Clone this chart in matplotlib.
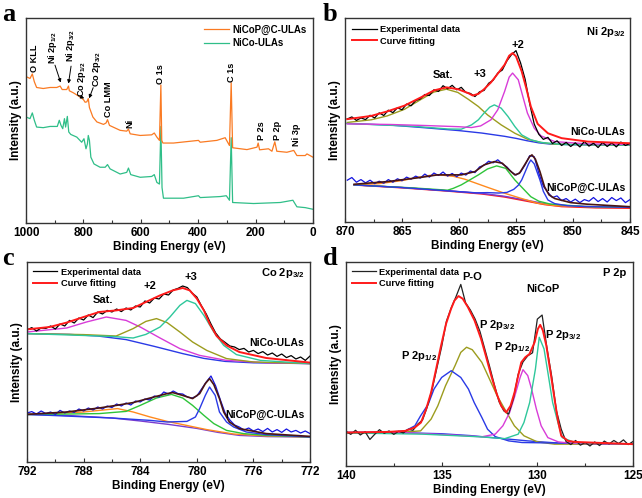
import numpy as np
import matplotlib
matplotlib.use("Agg")
import matplotlib.pyplot as plt

plt.rcParams['font.family'] = ['Liberation Sans', 'DejaVu Sans']
plt.rcParams['font.weight'] = 'bold'
plt.rcParams['axes.labelweight'] = 'bold'
plt.rcParams['mathtext.fontset'] = 'custom'
plt.rcParams['mathtext.rm'] = 'Liberation Sans:bold'
plt.rcParams['mathtext.it'] = 'Liberation Sans:bold'
plt.rcParams['mathtext.bf'] = 'Liberation Sans:bold'

# ---------------- Panel a : survey ----------------
a_eV_nicop = [1000, 986, 978, 971, 963, 940, 916, 893, 881, 874, 858, 852, 849, 835, 812, 800, 794, 788, 783, 779,
              767, 753, 730, 721, 716, 709, 672, 649, 643, 637, 602, 562, 553, 544, 535, 530, 527, 523, 486, 399,
              393, 335, 306, 291, 285, 280, 230, 195, 191, 186, 155, 143, 133, 126, 91, 67, 56, 27, 21, 0]
a_I_nicop = [71.4, 70.5, 72.7, 68.9, 66.1, 65.6, 66.1, 66.1, 66.8, 65.1, 65.1, 66.8, 64.5, 63.5, 61.5, 60.2, 58.9, 59.1, 60.7, 56.3,
             51.7, 49.3, 48.1, 48.8, 50.4, 47.6, 45.2, 44.8, 45.8, 43.5, 42.7, 43.0, 43.9, 41.9, 40.3, 67.3, 40.3, 39.0, 39.0, 40.3,
             39.4, 40.3, 41.6, 37.8, 68.4, 36.7, 35.8, 37.0, 39.0, 35.7, 36.2, 35.0, 39.6, 35.0, 34.5, 35.4, 32.9, 32.9, 33.7, 32.1]
a_eV_nico = [1000, 986, 978, 971, 963, 940, 916, 891, 884, 878, 872, 866, 862, 856, 851, 844, 823, 806, 798, 791,
             786, 783, 779, 774, 763, 742, 724, 716, 707, 672, 649, 643, 635, 602, 562, 553, 544, 535, 530, 526,
             521, 451, 399, 393, 323, 302, 291, 285, 280, 207, 114, 70, 56, 27, 0]
a_I_nico = [51.7, 50.9, 53.7, 50.1, 46.8, 46.5, 47.1, 47.1, 50.1, 47.6, 46.0, 50.9, 46.8, 52.0, 44.4, 43.2, 41.9, 39.4, 41.1, 36.2,
            38.6, 42.7, 40.3, 32.1, 28.8, 27.2, 27.2, 28.5, 26.4, 23.9, 24.7, 26.8, 23.6, 22.3, 22.7, 23.6, 19.8, 19.0, 47.1, 17.3,
            12.1, 12.1, 13.3, 12.4, 12.9, 13.3, 11.1, 41.6, 10.0, 9.5, 10.0, 11.1, 7.9, 7.5, 6.7]
a_labels = ['O KLL', 'Ni 2p$_{1/2}$', 'Ni 2p$_{3/2}$', 'Co 2p$_{1/2}$', 'Co 2p$_{3/2}$', 'Co LMM', 'Ni', 'O 1s', 'C 1s', 'P 2s', 'P 2p', 'Ni 3p']
a_label_eV = [971, 907, 844, 805, 753, 713, 637, 530, 283, 178, 122, 59]
a_label_I = [73.8, 77.6, 78.5, 61.5, 66.5, 51.7, 46.5, 67.8, 69.0, 40.3, 40.3, 37.8]

# ---------------- Panel b : Ni 2p3/2 ----------------
b_top_exp = [50.5, 51.5, 49.8, 51.0, 50.2, 52.3, 51.0, 53.5, 52.2, 54.8, 53.6, 56.0, 55.0, 57.8, 57.0, 59.5, 60.3, 62.5, 62.0, 64.8,
             64.0, 66.8, 65.3, 67.0, 64.8, 66.0, 63.5, 63.0, 61.5, 63.8, 64.5, 68.0, 69.5, 73.0, 74.5, 79.0, 82.0, 84.0, 78.0, 70.0,
             58.0, 48.0, 43.0, 40.5, 41.5, 38.5, 39.8, 37.5, 39.0, 37.0, 38.8, 36.8, 39.5, 37.2, 38.6, 36.5, 39.0, 37.0, 38.8, 36.8,
             39.2, 37.5, 38.5]
b_bot_exp = [20.5, 21.8, 19.5, 20.8, 19.2, 20.5, 18.8, 20.0, 19.0, 20.8, 19.5, 21.2, 20.2, 22.0, 21.0, 22.5, 21.5, 23.5, 22.0, 24.0,
             22.8, 24.5, 22.5, 23.8, 22.2, 24.0, 23.0, 25.0, 24.2, 27.0, 27.8, 29.8, 29.0, 30.5, 28.5, 27.0, 24.5, 23.0, 24.5, 28.0,
             32.5, 32.0, 24.0, 17.5, 14.5, 12.0, 12.8, 10.5, 11.5, 9.8, 11.2, 9.5, 11.0, 10.2, 12.0, 10.0, 11.5, 9.8, 12.0, 10.5,
             11.8, 9.5, 11.0]
b_exp_range = (869.8, 845.0)

b_top_fit_eV = [869.8, 867.7, 866.3, 864.8, 863.3, 862.2, 861.1, 860.1, 859.2, 858.8, 858.3, 857.8, 857.2, 856.6, 856.0, 855.6,
                855.3, 855.0, 854.5, 854.1, 853.7, 853.1, 852.2, 851.0, 848.7, 845]
b_top_fit_I = [50.4, 52.0, 54.2, 57.0, 61.2, 64.5, 66.0, 65.1, 63.2, 62.0, 62.8, 65.1, 68.4, 72.7, 77.1, 81.5,
               82.8, 81.2, 73.8, 65.6, 56.6, 48.1, 43.5, 41.1, 39.4, 38.6]
b_top_base_eV = [869.8, 866, 863, 860, 858, 856, 855, 854, 853, 852, 850, 845]
b_top_base_I = [48.3, 47.5, 46.2, 44.8, 43.6, 42.0, 41.0, 39.8, 38.8, 38.2, 37.9, 37.7]
b_top_sat_eV = [869.8, 867.7, 866.3, 864.8, 863.3, 862.2, 861.1, 860.1, 859.2, 858.3, 857.5, 856.3, 855.1, 854.0, 852.8, 851.6, 845]
b_top_sat_I = [48.8, 50.1, 52.0, 55.2, 60.2, 63.7, 65.1, 63.5, 60.2, 56.6, 52.5, 47.6, 43.5, 40.6, 39.0, 38.1, 37.7]
b_top_p3_eV = [869.8, 864, 861, 859.8, 858.9, 858.3, 857.8, 857.3, 856.9, 856.3, 855.7, 855.1, 854.5, 853.7, 852.8, 851, 845]
b_top_p3_I = [48.3, 46.9, 45.6, 45.5, 47.6, 50.1, 53.4, 56.3, 57.4, 55.8, 51.7, 46.8, 42.7, 40.3, 39.0, 38.0, 37.7]
b_top_p2_eV = [869.8, 866, 863, 860, 858.9, 858.1, 857.2, 856.6, 856.0, 855.6, 855.3, 854.8, 854.4, 854.0, 853.4, 852.8, 851.6, 848.7, 845]
b_top_p2_I = [48.1, 47.8, 47.3, 46.7, 46.3, 47.1, 50.1, 55.0, 64.0, 71.0, 73.0, 69.7, 61.5, 53.4, 46.0, 42.2, 39.4, 38.3, 38.0]

b_bot_fit_eV = [869.2, 866.3, 863.3, 861.9, 859.8, 858.6, 857.8, 856.9, 856.2, 855.6, 855.1, 854.7, 854.3, 853.8, 853.6, 853.3,
                852.9, 852.5, 852.1, 851.6, 850.2, 848.7, 845]
b_bot_fit_I = [18.5, 19.8, 21.9, 23.1, 23.1, 24.7, 28.0, 29.6, 28.8, 25.5, 23.1, 23.9, 27.5, 32.1, 32.9, 30.8,
               24.7, 17.3, 13.3, 11.5, 9.5, 8.7, 7.5]
b_bot_base_eV = [869.2, 865, 861, 858, 856, 854, 852.5, 851, 848, 845]
b_bot_base_I = [18.2, 16.9, 15.3, 14.0, 12.6, 10.6, 9.0, 8.0, 7.4, 7.2]
b_bot_base2_I = [18.2, 16.8, 15.2, 13.8, 12.3, 10.2, 8.6, 7.6, 7.0, 6.8]
b_bot_sat_eV = [869.2, 867, 865, 863.5, 862.5, 861.7, 860.5, 859.5, 858.9, 857.5, 856.0, 854.5, 853.1, 851.5, 848, 845]
b_bot_sat_I = [18.2, 18.8, 20.3, 22.0, 22.9, 23.1, 22.4, 21.0, 19.8, 17.0, 14.1, 11.5, 9.2, 8.0, 7.4, 7.2]
b_bot_g_eV = [869.2, 864, 861, 860.5, 859.8, 859.0, 858.3, 857.5, 856.7, 855.9, 855.1, 854.4, 853.7, 853.0, 852.0, 849, 845]
b_bot_g_I = [18.2, 16.7, 15.6, 16.5, 18.2, 20.8, 23.1, 26.0, 27.5, 26.3, 20.6, 16.5, 12.4, 10.2, 8.8, 7.6, 7.2]
b_bot_b_eV = [869.2, 865, 861, 858.5, 857.5, 856.5, 855.8, 855.2, 854.8, 854.5, 854.2, 853.9, 853.7, 853.4, 853.15, 852.9,
              852.6, 852.2, 851.6, 850.5, 849, 845]
b_bot_b_I = [18.2, 16.9, 15.3, 14.3, 14.4, 14.2, 14.5, 16.0, 18.0, 20.6, 24.5, 28.5, 30.4, 28.5, 24.5, 20.6,
             15.0, 10.8, 9.0, 8.0, 7.6, 7.2]

# ---------------- Panel c : Co 2p3/2 ----------------
c_top_exp = [66.0, 67.2, 65.5, 67.0, 66.8, 68.0, 66.5, 69.0, 68.0, 70.8, 69.5, 72.0, 71.0, 73.5, 72.2, 75.0, 74.0, 75.8, 75.0, 76.5,
             75.2, 77.0, 76.0, 78.0, 77.5, 80.5, 79.5, 82.0, 81.5, 84.0, 83.5, 86.0, 86.8, 88.0, 87.2, 84.5, 82.5, 78.0, 74.0, 69.0,
             64.5, 61.5, 59.8, 58.0, 57.5, 56.2, 56.8, 55.0, 55.8, 54.2, 55.2, 53.5, 54.5, 52.8, 54.0, 52.2, 53.2, 51.5, 52.5, 50.8,
             53.0]
c_bot_exp = [24.5, 25.2, 24.0, 25.5, 24.2, 25.0, 23.8, 25.8, 24.5, 25.5, 24.8, 26.5, 25.5, 27.0, 26.0, 27.5, 26.5, 28.0, 27.2, 29.0,
             28.0, 29.5, 28.5, 30.5, 30.0, 31.5, 31.0, 33.0, 32.5, 35.0, 34.0, 35.5, 34.2, 34.0, 32.5, 32.0, 33.0, 36.5, 40.0, 43.0,
             38.0, 31.0, 24.5, 21.0, 18.5, 17.5, 16.0, 17.0, 15.5, 16.5, 15.2, 16.8, 15.0, 16.2, 14.8, 16.5, 15.0, 15.8, 14.5, 15.5,
             14.2]
c_exp_range = (792.0, 772.0)

c_top_fit_eV = [792, 790.4, 789.2, 788.0, 786.9, 785.7, 784.5, 783.6, 782.6, 781.7, 781.0, 780.5, 780.0, 779.5, 779.1, 778.6,
                777.9, 777.0, 775.1, 772]
c_top_fit_I = [66.3, 67.5, 69.7, 72.5, 75.0, 75.8, 77.0, 80.0, 83.3, 85.8, 87.0, 85.8, 81.7, 75.8, 69.2, 63.0,
               58.3, 55.0, 52.0, 49.7]
c_top_base_eV = [792, 789, 787, 785, 783, 781, 779.5, 778, 776, 772]
c_top_base_I = [64.2, 63.8, 63.0, 61.2, 57.8, 54.2, 51.8, 50.3, 49.6, 49.2]
c_top_sat_eV = [792, 789.2, 787.8, 786.4, 785.0, 784.0, 782.6, 781.2, 779.8, 777.9, 775, 772]
c_top_sat_I = [65.0, 67.0, 70.0, 72.5, 70.8, 67.5, 62.0, 56.7, 53.3, 50.8, 49.6, 49.2]
c_top_p2_eV = [792, 788, 785.7, 784.5, 783.6, 782.85, 782.1, 781.2, 780.3, 779.3, 777.9, 776, 772]
c_top_p2_I = [64.2, 63.7, 63.0, 66.7, 70.3, 71.7, 69.7, 65.0, 60.0, 55.8, 51.7, 50.0, 49.2]
c_top_p3_eV = [792, 786, 784.5, 783.6, 782.6, 781.9, 781.2, 780.7, 780.1, 779.5, 778.8, 778.1, 777.2, 775.5, 772]
c_top_p3_I = [64.2, 62.8, 62.0, 63.8, 67.5, 72.5, 78.3, 80.8, 79.2, 73.3, 65.0, 58.3, 53.7, 50.8, 49.2]

c_bot_fit_eV = [792, 789.2, 786.9, 785.7, 784.5, 783.3, 782.1, 781.7, 781.0, 780.3, 779.8, 779.4, 779.1, 778.8, 778.4, 778.1,
                777.7, 777.0, 775.1, 772]
c_bot_fit_I = [23.8, 25.0, 27.0, 28.3, 29.7, 32.0, 34.2, 34.7, 33.3, 31.7, 34.2, 39.2, 41.7, 38.7, 31.7, 25.0,
               20.0, 16.7, 14.2, 12.8]
c_bot_base_eV = [792, 789, 786, 784, 782, 780, 778.5, 777, 775, 772]
c_bot_base_I = [23.8, 23.2, 22.0, 20.5, 18.8, 16.8, 14.8, 13.3, 12.7, 12.5]
c_bot_sat_eV = [792, 789.5, 788, 786.9, 785.6, 784.5, 783.3, 782.1, 781, 779.3, 777.4, 775.1, 772]
c_bot_sat_I = [23.8, 24.5, 25.0, 25.8, 26.7, 25.0, 22.5, 20.3, 18.7, 16.2, 14.0, 13.0, 12.5]
c_bot_g_eV = [792, 786.9, 785, 784, 782.85, 781.8, 781.0, 780.3, 779.5, 778.8, 777.9, 776.7, 775.1, 772]
c_bot_g_I = [23.7, 24.2, 25.3, 28.3, 32.0, 33.8, 32.0, 28.3, 23.3, 19.2, 15.8, 14.2, 13.3, 12.5]
c_bot_b_eV = [792, 786, 783.3, 782.1, 780.7, 780.1, 779.8, 779.4, 779.1, 778.7, 778.4, 777.9, 777.4, 776.5, 775.1, 772]
c_bot_b_I = [23.8, 22.0, 20.8, 20.0, 20.3, 22.5, 26.7, 33.3, 37.5, 33.3, 25.0, 20.0, 17.5, 15.0, 13.7, 12.5]

# ---------------- Panel d : P 2p ----------------
d_exp = [17.0, 15.5, 17.5, 15.2, 16.8, 13.0, 15.5, 17.8, 16.0, 17.2, 15.5, 17.0, 16.2, 18.0, 17.5, 20.5, 22.5, 29.0, 37.5, 48.0,
         58.5, 71.0, 77.5, 83.0, 89.0, 80.0, 76.5, 72.0, 66.0, 57.5, 49.0, 40.0, 31.5, 27.0, 25.5, 33.0, 45.0, 51.0, 54.0, 55.5,
         72.0, 74.0, 58.0, 44.0, 27.0, 18.0, 12.0, 10.5, 12.5, 10.2, 11.5, 9.8, 11.8, 10.0, 12.2, 10.8, 12.5, 11.0, 12.8, 10.5,
         12.0]
d_exp_range = (140.0, 125.0)
d_fit_eV = [140, 137.8, 136.9, 136.4, 136.08, 135.81, 135.55, 135.29, 135.03, 134.77, 134.51, 134.33, 134.12, 133.90, 133.63,
            133.28, 132.94, 132.67, 132.41, 132.15, 131.89, 131.63, 131.40, 131.19, 131.02, 130.84, 130.63, 130.41, 130.14,
            129.97, 129.85, 129.71, 129.53, 129.31, 129.10, 128.92, 128.75, 128.40, 128.05, 125]
d_fit_I = [16.4, 16.7, 17.2, 18.9, 21.3, 27.9, 36.1, 47.5, 59.0, 69.7, 77.0, 81.1, 83.3, 82.0, 77.9,
           71.3, 62.3, 53.3, 44.3, 36.1, 29.5, 26.2, 29.5, 36.1, 43.4, 50.8, 53.3, 54.9, 60.7,
           67.2, 69.2, 66.4, 59.0, 45.9, 32.8, 22.1, 14.8, 12.3, 11.8, 10.7]
d_base_eV = [140, 137, 135, 133.5, 132, 130.5, 129, 127.5, 125]
d_base_I = [16.4, 16.3, 15.8, 14.9, 13.6, 12.3, 11.3, 10.9, 10.7]
d_po12_eV = [140, 138, 137.5, 136.9, 136.4, 136.1, 135.7, 135.4, 135.0, 134.5, 134.0, 133.6, 133.3, 132.9, 132.6, 132.2, 131.5, 130.8, 125]
d_po12_I = [16.4, 16.5, 16.8, 17.2, 19.7, 24.6, 30.3, 37.7, 43.4, 46.7, 43.4, 37.7, 31.1, 23.8, 18.0, 14.4, 12.3, 11.5, 10.7]
d_po32_eV = [140, 137.5, 136.1, 135.55, 135.2, 134.8, 134.3, 134.0, 133.7, 133.4, 132.9, 132.5, 132.1, 131.6, 131.2, 130.7, 130.0, 129.1, 125]
d_po32_I = [16.2, 16.3, 17.2, 23.0, 29.5, 39.3, 49.2, 55.7, 58.2, 57.0, 50.8, 42.6, 34.4, 26.2, 19.7, 14.8, 11.8, 10.7, 10.7]
d_n12_eV = [140, 137.8, 134.3, 132.9, 132.2, 131.8, 131.45, 131.2, 130.9, 130.75, 130.5, 130.3, 130.05, 129.8, 129.45, 128.9, 128.2, 125]
d_n12_I = [16.4, 16.7, 15.1, 14.3, 15.6, 19.7, 26.2, 33.6, 43.4, 47.2, 44.3, 37.7, 27.9, 19.7, 13.9, 11.8, 11.1, 10.7]
d_n32_eV = [140, 136, 133, 131.7, 131.0, 130.7, 130.4, 130.1, 129.9, 129.65, 129.45, 129.2, 128.9, 128.7, 128.05, 125]
d_n32_I = [16.2, 15.6, 14.3, 13.4, 15.6, 21.3, 31.1, 47.5, 63.1, 57.4, 45.9, 31.1, 20.5, 13.9, 11.5, 10.7]

# ---------------- colours ----------------
C_ORANGE = '#FA7A22'
C_GREEN = '#2FBE88'
C_RED = '#FF1A1A'
C_OLIVE = '#9C9C1E'
C_TEAL = '#2EC79B'
C_MAG = '#D83CD8'
C_BLUE = '#2A3AE6'
C_EXPB = '#1414E0'
C_DARK = '#4A1414'
C_SATO = '#FF8A1E'
C_LGREEN = '#2EC43A'
SPINE = '#333333'

fig = plt.figure(figsize=(6.42, 4.98), dpi=100)
axa = fig.add_axes([0.0405, 0.5522, 0.447, 0.4117])
axb = fig.add_axes([0.5374, 0.5542, 0.4439, 0.4097])
axc = fig.add_axes([0.0421, 0.0723, 0.4408, 0.4016])
axd = fig.add_axes([0.5389, 0.0643, 0.4471, 0.4096])


def style(ax, xlim, major, minor):
    ax.set_xlim(*xlim)
    ax.set_ylim(0, 100)
    ax.set_yticks([])
    ax.set_xticks(np.arange(min(xlim), max(xlim) + 0.01, major))
    ax.set_xticks(np.arange(min(xlim), max(xlim) + 0.01, minor), minor=True)
    ax.tick_params(axis='x', which='major', direction='in', length=3, width=0.8, labelsize=8.5, pad=3, color=SPINE)
    ax.tick_params(axis='x', which='minor', direction='in', length=2, width=0.8, color=SPINE)
    for s in ax.spines.values():
        s.set_linewidth(1.0)
        s.set_color(SPINE)
    ax.set_xlabel('Binding Energy (eV)', fontsize=8.5, labelpad=1)
    ax.set_ylabel('Intensity (a.u.)', fontsize=8.5, labelpad=3)


# ---- a ----
style(axa, (1000, 0), 200, 100)
axa.plot(a_eV_nico, a_I_nico, color=C_GREEN, lw=0.9, label='NiCo-ULAs')
axa.plot(a_eV_nicop, a_I_nicop, color=C_ORANGE, lw=0.9, label='NiCoP@C-ULAs')
h, l = axa.get_legend_handles_labels()
axa.legend(h[::-1], l[::-1], loc='upper right', frameon=False, fontsize=7, handlelength=2.6,
           handletextpad=0.3, labelspacing=0.35, borderaxespad=0.3)
for t, x, y in zip(a_labels, a_label_eV, a_label_I):
    axa.text(x, y, t, rotation=90, ha='center', va='bottom', fontsize=6.6)
arrow = dict(arrowstyle='-|>', color='black', lw=0.7, mutation_scale=5, shrinkA=0, shrinkB=0)
axa.annotate('', xy=(879, 68.5), xytext=(899, 77.0), arrowprops=arrow)
axa.annotate('', xy=(852, 68.0), xytext=(843, 76.5), arrowprops=arrow)
axa.annotate('', xy=(797, 60.8), xytext=(805, 61.3), arrowprops=arrow)
axa.annotate('', xy=(780, 60.8), xytext=(766, 66.0), arrowprops=arrow)

# ---- b ----
style(axb, (870, 845), 5, 2.5)
xb = np.linspace(b_exp_range[0], b_exp_range[1], len(b_top_exp))
axb.plot(b_top_base_eV, b_top_base_I, color=C_BLUE, lw=1.0)
axb.plot(b_top_sat_eV, b_top_sat_I, color=C_OLIVE, lw=1.0)
axb.plot(b_top_p3_eV, b_top_p3_I, color=C_TEAL, lw=1.0)
axb.plot(b_top_p2_eV, b_top_p2_I, color=C_MAG, lw=1.0)
axb.plot(xb, b_top_exp, color='black', lw=0.9, label='Experimental data')
axb.plot(b_top_fit_eV, b_top_fit_I, color=C_RED, lw=1.4, label='Curve fitting')
axb.plot(b_bot_base_eV, b_bot_base2_I, color=C_RED, lw=1.2)
axb.plot(b_bot_base_eV, b_bot_base_I, color='#7A3CD0', lw=1.0)
axb.plot(b_bot_sat_eV, b_bot_sat_I, color=C_SATO, lw=1.0)
axb.plot(b_bot_g_eV, b_bot_g_I, color=C_LGREEN, lw=1.0)
axb.plot(b_bot_b_eV, b_bot_b_I, color=C_BLUE, lw=1.0)
axb.plot(xb, b_bot_exp, color=C_EXPB, lw=0.9)
axb.plot(b_bot_fit_eV, b_bot_fit_I, color=C_DARK, lw=1.2)
axb.legend(loc='upper left', frameon=False, fontsize=6.7, handlelength=2.6, handletextpad=0.4,
           labelspacing=0.25, borderaxespad=0.4)
axb.text(861.4, 72.2, 'Sat.', ha='center', va='center', fontsize=8)
axb.text(858.2, 72.7, '+3', ha='center', va='center', fontsize=8)
axb.text(854.8, 86.9, '+2', ha='center', va='center', fontsize=8)
axb.text(845.4, 44.0, 'NiCo-ULAs', ha='right', va='center', fontsize=7.5)
axb.text(845.4, 16.9, 'NiCoP@C-ULAs', ha='right', va='center', fontsize=7.5)
axb.text(845.4, 93.0, 'Ni 2p$_{3/2}$', ha='right', va='center', fontsize=8)

# ---- c ----
style(axc, (792, 772), 4, 2)
xc = np.linspace(c_exp_range[0], c_exp_range[1], len(c_top_exp))
axc.plot(c_top_base_eV, c_top_base_I, color=C_BLUE, lw=1.0)
axc.plot(c_top_sat_eV, c_top_sat_I, color=C_MAG, lw=1.0)
axc.plot(c_top_p2_eV, c_top_p2_I, color=C_OLIVE, lw=1.0)
axc.plot(c_top_p3_eV, c_top_p3_I, color=C_TEAL, lw=1.0)
axc.plot(xc, c_top_exp, color='black', lw=0.9, label='Experimental data')
axc.plot(c_top_fit_eV, c_top_fit_I, color=C_RED, lw=1.4, label='Curve fitting')
axc.plot(c_bot_base_eV, c_bot_base_I, color='#7A3CD0', lw=1.0)
axc.plot(c_bot_sat_eV, c_bot_sat_I, color=C_SATO, lw=1.0)
axc.plot(c_bot_g_eV, c_bot_g_I, color=C_LGREEN, lw=1.0)
axc.plot(c_bot_b_eV, c_bot_b_I, color=C_BLUE, lw=1.0)
axc.plot(xc, c_bot_exp, color=C_EXPB, lw=0.9)
axc.plot(c_bot_fit_eV, c_bot_fit_I, color=C_DARK, lw=1.2)
axc.legend(loc='upper left', frameon=False, fontsize=6.7, handlelength=2.6, handletextpad=0.4,
           labelspacing=0.25, borderaxespad=0.2)
axc.text(786.6, 80.8, 'Sat.', ha='center', va='center', fontsize=8)
axc.text(783.3, 88.0, '+2', ha='center', va='center', fontsize=8)
axc.text(780.4, 92.5, '+3', ha='center', va='center', fontsize=8)
axc.text(772.4, 59.5, 'NiCo-ULAs', ha='right', va='center', fontsize=7.5)
axc.text(772.4, 23.7, 'NiCoP@C-ULAs', ha='right', va='center', fontsize=7.5)
axc.text(772.4, 94.5, 'Co 2p$_{3/2}$', ha='right', va='center', fontsize=8)

# ---- d ----
style(axd, (140, 125), 5, 2.5)
xd = np.linspace(d_exp_range[0], d_exp_range[1], len(d_exp))
axd.plot(d_base_eV, d_base_I, color=C_BLUE, lw=1.0)
axd.plot(d_po32_eV, d_po32_I, color=C_OLIVE, lw=1.0)
axd.plot(d_po12_eV, d_po12_I, color=C_BLUE, lw=1.0)
axd.plot(d_n12_eV, d_n12_I, color=C_MAG, lw=1.0)
axd.plot(d_n32_eV, d_n32_I, color=C_TEAL, lw=1.0)
axd.plot(xd, d_exp, color='#222222', lw=0.9, label='Experimental data')
axd.plot(d_fit_eV, d_fit_I, color=C_RED, lw=1.4, label='Curve fitting')
axd.legend(loc='upper left', frameon=False, fontsize=6.7, handlelength=2.6, handletextpad=0.4,
           labelspacing=0.25, borderaxespad=0.2)
axd.text(133.4, 92.6, 'P-O', ha='center', va='center', fontsize=8)
axd.text(129.7, 86.9, 'NiCoP', ha='center', va='center', fontsize=8)
axd.text(132.1, 69.2, 'P 2p$_{3/2}$', ha='center', va='center', fontsize=8)
axd.text(136.2, 53.8, 'P 2p$_{1/2}$', ha='center', va='center', fontsize=8)
axd.text(131.33, 58.5, 'P 2p$_{1/2}$', ha='center', va='center', fontsize=8)
axd.text(128.66, 64.3, 'P 2p$_{3/2}$', ha='center', va='center', fontsize=8)
axd.text(125.35, 94.8, 'P 2p', ha='right', va='center', fontsize=8)

for lab, x, y in [('a', 0.004, 0.994), ('b', 0.503, 0.994), ('c', 0.004, 0.504), ('d', 0.503, 0.504)]:
    fig.text(x, y, lab, family=['Liberation Serif', 'DejaVu Serif'], weight='bold', fontsize=19, va='top', ha='left')

fig.savefig('out.png', dpi=100)
